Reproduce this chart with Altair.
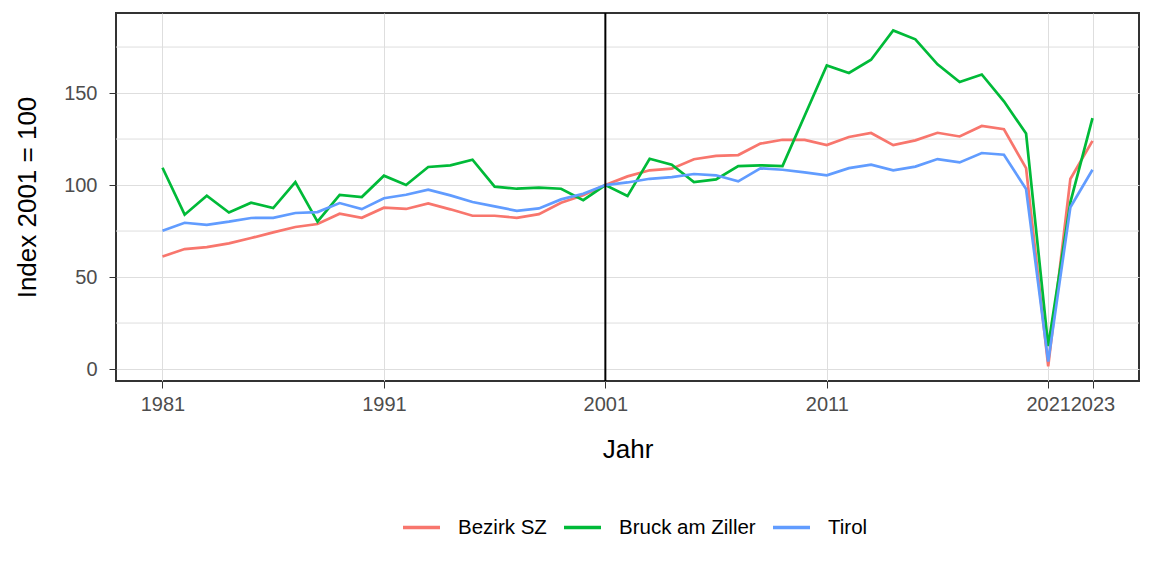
import altair as alt
import pandas as pd

years = list(range(1981, 2024))
series_names = ["Bezirk SZ", "Bruck am Ziller", "Tirol"]
series_colors = ["#F8766D", "#00BA38", "#619CFF"]

bezirk_sz = [61.2, 65.2, 66.3, 68.3, 71.2, 74.3, 77.2, 78.8, 84.4, 82.2,
             87.7, 87.0, 90.0, 86.8, 83.3, 83.3, 82.2, 84.2, 90.4, 94.4,
             100.0, 104.7, 108.0, 108.9, 114.0, 115.8, 116.3, 122.5, 124.6, 124.5,
             121.7, 126.1, 128.3, 121.7, 124.3, 128.4, 126.4, 132.1, 130.3, 109.2,
             1.5, 103.3, 124.0]
bruck = [109.4, 83.9, 94.2, 85.1, 90.4, 87.5, 101.6, 80.1, 94.7, 93.5,
         105.1, 100.0, 109.8, 110.7, 113.8, 99.1, 98.0, 98.6, 98.0, 91.8,
         100.0, 94.0, 114.3, 111.0, 101.6, 103.1, 110.3, 110.7, 110.3, 137.7,
         165.0, 160.9, 168.1, 184.0, 179.2, 165.6, 156.0, 160.1, 145.5, 128.0,
         12.5, 90.6, 136.4]
tirol = [75.2, 79.5, 78.4, 80.1, 82.1, 82.2, 84.8, 85.3, 90.2, 86.9,
         92.8, 94.7, 97.5, 94.4, 90.8, 88.4, 86.0, 87.3, 92.2, 95.3,
         100.0, 101.4, 103.4, 104.3, 106.0, 105.3, 102.0, 109.1, 108.3, 106.9,
         105.3, 109.2, 111.1, 108.0, 110.0, 114.1, 112.3, 117.4, 116.5, 97.8,
         4.0, 87.9, 108.3]

x_ticks = [1981, 1991, 2001, 2011, 2021, 2023]
y_ticks = [0, 50, 100, 150]
y_minor = [25, 75, 125, 175]
ref_year = [2001]

rows = []
for name, vals in zip(series_names, [bezirk_sz, bruck, tirol]):
    for yr, v in zip(years, vals):
        rows.append({"Jahr": yr, "Index": v, "Gebiet": name})
df = pd.DataFrame(rows)

FONT = "Liberation Sans"
GRID = "#DEDEDE"

xscale = alt.Scale(domain=[1978.9, 2025.1], nice=False, zero=False)
yscale = alt.Scale(domain=[-6.5, 193.5], nice=False, zero=False)

x_axis = alt.Axis(
    values=x_ticks, format="d", title="Jahr", grid=True, gridColor=GRID,
    domain=False, tickColor="#333333", tickSize=7, labelFontSize=20,
    labelColor="#4D4D4D", labelPadding=6, labelOverlap=False, labelFlush=False,
    titleFontSize=26, titleFontWeight="normal", titleColor="black",
    titleY=76, titleBaseline="alphabetic", labelFont=FONT, titleFont=FONT)
y_axis = alt.Axis(
    values=y_ticks, title="Index 2001 = 100", grid=True, gridColor=GRID,
    domain=False, tickColor="#333333", tickSize=7, labelFontSize=20,
    labelColor="#4D4D4D", labelPadding=12, labelOverlap=False,
    titleFontSize=26, titleFontWeight="normal", titleColor="black",
    titleX=-81, titleY=184, titleAngle=270, titleAlign="center",
    titleBaseline="alphabetic", labelFont=FONT, titleFont=FONT)

minor = alt.Chart(pd.DataFrame({"Index": y_minor})).mark_rule(
    color=GRID, strokeWidth=1
).encode(y=alt.Y("Index:Q", scale=yscale, axis=y_axis))

lines = alt.Chart(df).mark_line(strokeWidth=2.7).encode(
    x=alt.X("Jahr:Q", scale=xscale, axis=x_axis),
    y=alt.Y("Index:Q", scale=yscale, axis=y_axis),
    color=alt.Color("Gebiet:N", scale=alt.Scale(domain=series_names, range=series_colors),
                    legend=alt.Legend(
                        orient="none", legendX=285, legendY=494, direction="horizontal",
                        title=None, symbolType="stroke", symbolSize=1369,
                        symbolStrokeWidth=3.5, labelFontSize=20.5, labelColor="black",
                        labelFont=FONT, labelOffset=16, columnPadding=10, padding=0)),
)

vline = alt.Chart(pd.DataFrame({"Jahr": ref_year})).mark_rule(
    color="black", strokeWidth=2
).encode(x=alt.X("Jahr:Q", scale=xscale, axis=x_axis))

chart = alt.layer(minor, lines, vline).properties(
    width=1023, height=368,
    padding={"left": 116, "top": 13, "right": 13, "bottom": 195},
    autosize=alt.AutoSizeParams(type="none"),
    background="white",
).configure_view(stroke="#333333", strokeWidth=2)

chart.save("out.html", embed_options={"renderer": "svg", "actions": False})
